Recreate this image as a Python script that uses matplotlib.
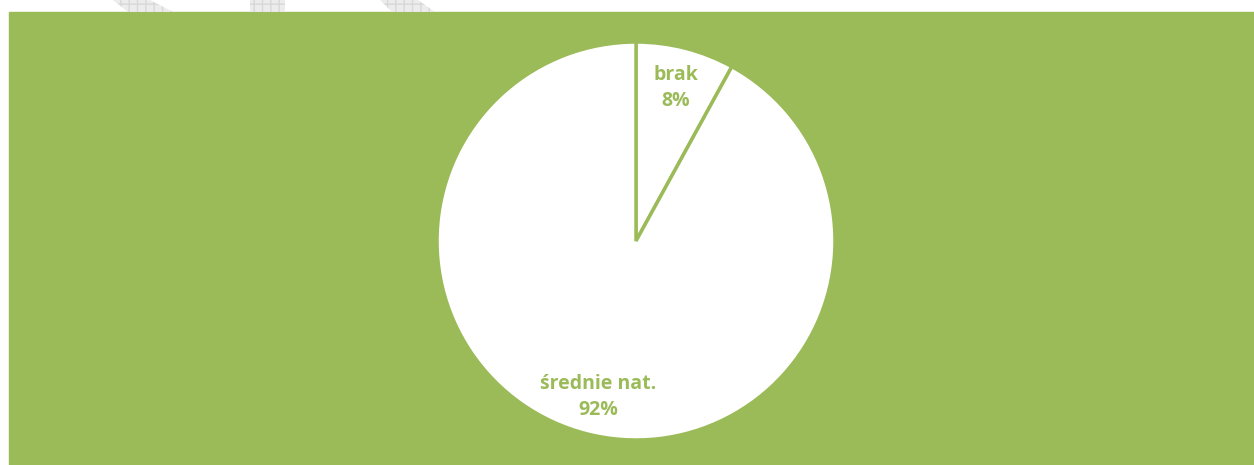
import matplotlib.pyplot as plt
from matplotlib.patches import Rectangle, Polygon

# dane
labels = ['brak', 'średnie nat.']
values = [8, 92]
green = '#9BBB59'

plt.rcParams['font.family'] = ['Open Sans', 'DejaVu Sans']

W, H = 1254, 465
fig = plt.figure(figsize=(W / 100, H / 100), dpi=100)
fig.patch.set_facecolor('white')

# zielone tło wykresu
fig.patches.append(Rectangle((9 / W, 0), 1 - 9 / W, (H - 12) / H,
                             transform=fig.transFigure, color=green, zorder=-2))

# szare kształty na górze (fragmenty strony)
shapes = [
    [(113, 0), (150, 0), (173, 12), (128, 12)],
    [(250, 0), (285, 0), (285, 12), (250, 12)],
    [(380, 0), (418, 0), (435, 12), (392, 12)],
]
for s in shapes:
    pts = [(x / W, 1 - y / H) for x, y in s]
    fig.patches.append(Polygon(pts, closed=True, transform=fig.transFigure,
                               facecolor='#ececec', edgecolor='#d8d8d8',
                               hatch='++', linewidth=0, zorder=-2))

# wykres kołowy
cx, cy, r = 636, 241, 199
ax = fig.add_axes([(cx - r) / W, 1 - (cy + r) / H, 2 * r / W, 2 * r / H])
ax.set_zorder(1)
ax.pie(values, startangle=90, counterclock=False, colors=['white', 'white'],
       wedgeprops=dict(edgecolor=green, linewidth=2.5))
ax.set_aspect('equal')
ax.set_xlim(-1, 1)
ax.set_ylim(-1, 1)
ax.axis('off')

# etykiety
label_pos = [(676, 88), (598, 397)]
for lab, v, (x, y) in zip(labels, values, label_pos):
    fig.text(x / W, 1 - y / H, f'{lab}\n{v}%', ha='center', va='center',
             color=green, fontsize=14, fontweight='bold', linespacing=1.45,
             zorder=5)

fig.savefig('out.png', dpi=100)
